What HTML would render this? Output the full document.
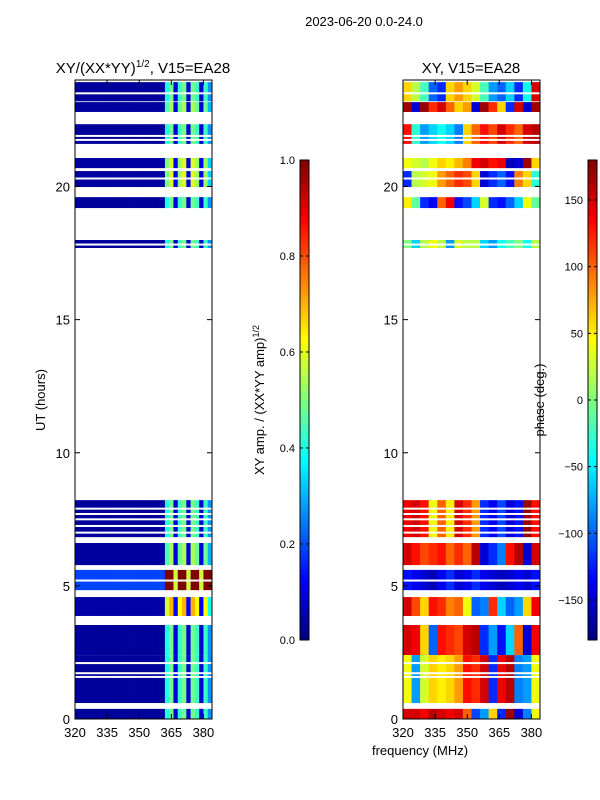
<!DOCTYPE html>
<html><head><meta charset="utf-8"><style>
body{margin:0;background:#fff;}
svg{display:block;font-family:"Liberation Sans",sans-serif;}
</style></head><body>
<svg id="fig" width="600" height="800" xmlns="http://www.w3.org/2000/svg">
<text x="364" y="26" font-size="13" text-anchor="middle">2023-06-20 0.0-24.0</text>
<text x="143" y="73" font-size="15" text-anchor="middle">XY/(XX*YY)<tspan font-size="10" dy="-6">1/2</tspan><tspan dy="6">, V15=EA28</tspan></text>
<text x="471" y="73" font-size="15" text-anchor="middle">XY, V15=EA28</text>
<text x="45" y="400" font-size="13" text-anchor="middle" transform="rotate(-90 45 400)">UT (hours)</text>
<text x="264" y="400" font-size="13" text-anchor="middle" transform="rotate(-90 264 400)">XY amp. / (XX*YY amp)<tspan font-size="9" dy="-5">1/2</tspan></text>
<text x="544" y="400" font-size="13" text-anchor="middle" transform="rotate(-90 544 400)">phase (deg.)</text>
<text x="420" y="755" font-size="13" text-anchor="middle">frequency (MHz)</text>
<g id="g1"></g>
<g id="g2"></g>
<g id="axes"></g>
</svg>
<script>
// data
const blocks = [[23.2,23.92],[22.8,23.17],[21.6,22.34],[20.69,21.07],[19.98,20.58],[19.19,19.6],[17.69,17.99],
 [6.83,8.22],[5.78,6.61],[4.84,5.6],[3.87,4.58],[2.4,3.53],[0.6,2.4],[0,0.38]];
const ampScale = [0.9,1,0.9,1.1,1.1,0.9,0.9,0.9,1,1.6,1.3,0.9,0.9,0.9];
const ampBase = [0.03,0.03,0.03,0.03,0.03,0.03,0.03,0.03,0.03,0.12,0.03,0.03,0.03,0.03];
const ampProfile = [1,1,1,1,1,1,1,1,1,1,1,1,1,1,1,1,1,1,1,1,1,15,18,3,16,18,3,18,16,3,16,10];
const phaseRows = [
 [60,20,-20,-100,-120,60,80,60,30,-20,-80,-100,-60,-120,-40,150],
 [170,-150,170,120,150,100,60,80,-150,170,120,60,-120,150,-150,170],
 [130,-30,-80,-60,-40,-60,-90,60,100,130,110,150,120,100,150,160],
 [40,30,20,40,60,50,70,90,140,150,130,140,-160,-150,170,60],
 [-120,20,30,40,80,100,120,110,60,-150,-120,-100,-130,90,60,-30],
 [50,-10,-120,-140,100,140,-130,-110,-60,30,-120,-130,-100,-60,40,-10],
 [0,-60,20,40,20,-80,30,20,20,-60,-80,-40,-20,0,-40,20],
 [140,150,130,40,100,50,150,120,80,-120,-140,-110,-150,-130,170,130],
 [150,130,110,120,130,100,120,100,160,-150,-120,-90,130,160,-150,150],
 [-130,-140,-150,-160,-140,-120,-150,-140,-120,-140,-150,-160,-150,-140,-150,-130],
 [150,110,60,130,120,90,100,40,-100,-90,120,-60,-100,-80,60,140],
 [150,140,60,-100,130,120,110,150,160,-120,-80,-130,-60,100,-150,140],
 [40,-80,30,60,50,60,80,130,120,150,-120,140,160,-90,-80,40],
 [150,150,140,160,150,140,150,100,-110,-80,60,-120,170,-150,-90,40]];
const gapLines = [23.5,22.65,22.5,21.9,21.75,20.3,17.82,7.9,7.7,7.5,7.25,7.0,2.1,1.72,1.58,5.2];
const yTicks = [0,5,10,15,20];
const xTicks = [320,335,350,365,380];
const ampTicks = [0.0,0.2,0.4,0.6,0.8,1.0];
const phaseTicks = [-150,-100,-50,0,50,100,150];

const NS="http://www.w3.org/2000/svg";
const T=80,B=719;
const ys=h=>B-(h/24)*(B-T);
const xsL=f=>75+(f-320)*137/64;
const xsR=f=>403+(f-320)*137/64;
function jet(v){v=Math.max(0,Math.min(1,v));
 const r=Math.max(0,Math.min(1,1.5-Math.abs(4*v-3))),g=Math.max(0,Math.min(1,1.5-Math.abs(4*v-2))),b=Math.max(0,Math.min(1,1.5-Math.abs(4*v-1)));
 return `rgb(${Math.round(r*255)},${Math.round(g*255)},${Math.round(b*255)})`;}
function rect(p,x,y,w,h,fill){const r=document.createElementNS(NS,'rect');
 r.setAttribute('x',x);r.setAttribute('y',y);r.setAttribute('width',w);r.setAttribute('height',h);r.setAttribute('fill',fill);p.appendChild(r);return r;}
function line(p,x1,y1,x2,y2,c,w){const l=document.createElementNS(NS,'line');
 l.setAttribute('x1',x1);l.setAttribute('y1',y1);l.setAttribute('x2',x2);l.setAttribute('y2',y2);l.setAttribute('stroke',c||'#000');l.setAttribute('stroke-width',w||1);p.appendChild(l);return l;}
function text(p,x,y,s,anchor){const t=document.createElementNS(NS,'text');
 t.setAttribute('x',x);t.setAttribute('y',y);t.setAttribute('font-size','13');t.setAttribute('text-anchor',anchor||'middle');t.textContent=s;p.appendChild(t);return t;}
const g1=document.getElementById('g1'),g2=document.getElementById('g2'),ax=document.getElementById('axes');
blocks.forEach((b,i)=>{
 const y0=ys(b[1]),y1=ys(b[0]);
 ampProfile.forEach((p,j)=>{
  const f=320+j*2;const v=Math.min(1,ampBase[i]*p*ampScale[i]);
  const r=rect(g1,xsL(f),y0,137/32+0.3,y1-y0,jet(v));
  
  
 });
 phaseRows[i].forEach((p,j)=>{
  const f=320+j*4;
  const r=rect(g2,xsR(f),y0,137/16+0.3,y1-y0,jet((p+180)/360));
  
  
 });
});
gapLines.forEach(h=>{rect(g1,75,ys(h)-1,137,2,'#fff');rect(g2,403,ys(h)-1,137,2,'#fff');});
[[75,'amp'],[403,'phase']].forEach(([x0,n])=>{
 const fr=rect(ax,x0,T,137,B-T,'none');fr.setAttribute('stroke','#000');
 
 
 yTicks.forEach(h=>{const y=ys(h);line(ax,x0,y,x0+5,y);line(ax,x0+137,y,x0+132,y);
  const t=text(ax,x0-5,y+5,String(h),'end');
  
  });
 xTicks.forEach(f=>{const x=x0+(f-320)*137/64;line(ax,x,B,x,B-5);line(ax,x,T,x,T+5);
  const t=text(ax,x,B+18,String(f));
  
  });
});
function cbar(x0,vals,lo,hi,nm){
 for(let k=0;k<96;k++){rect(ax,x0,640-(k+1)*5,9,5.3,jet((k+0.5)/96));}
 const fr=rect(ax,x0,160,9,480,'none');fr.setAttribute('stroke','#000');
 
 
 vals.forEach(v=>{const y=640-(v-lo)/(hi-lo)*480;line(ax,x0,y,x0+3,y);line(ax,x0+9,y,x0+6,y);
  const t=text(ax,x0-5,y+4,nm==='amp-colorbar'?v.toFixed(1):(v<0?'\u2212'+(-v):String(v)),'end');
  t.setAttribute('font-size','11');
  
  });
}
cbar(300,ampTicks,0,1,'amp-colorbar');
cbar(588,phaseTicks,-180,180,'phase-colorbar');
</script>
</body></html>
